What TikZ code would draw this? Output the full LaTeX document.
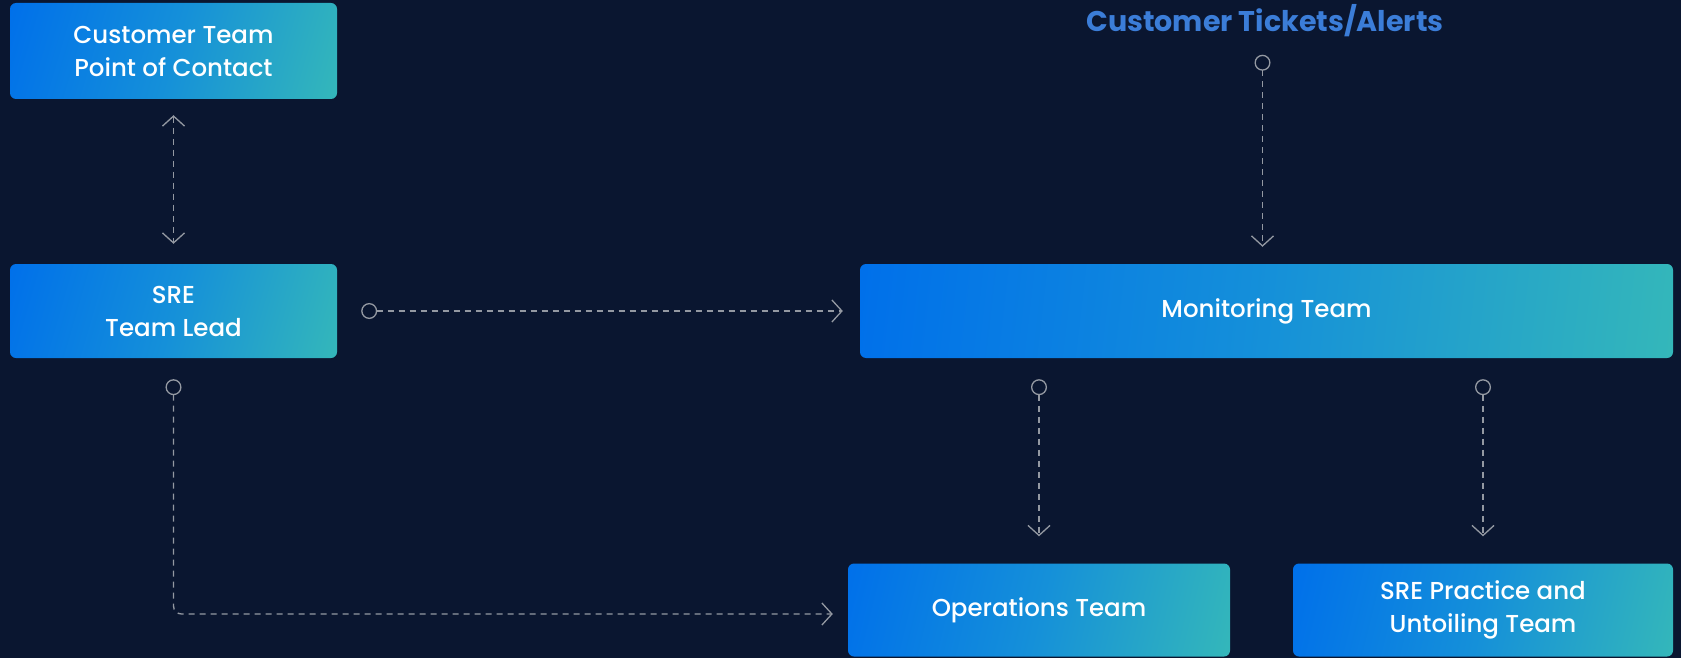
\documentclass[tikz,border=0pt]{standalone}
\usepackage{fontspec}
\setmainfont{Poppins}
\newfontfamily\labelfont{Poppins Medium}
\usetikzlibrary{arrows.meta}
\definecolor{bgnavy}{HTML}{0A1630}
\definecolor{boxblue}{HTML}{0070EA}
\definecolor{boxmid}{HTML}{1590D9}
\definecolor{boxteal}{HTML}{34B7BA}
\definecolor{linkgray}{HTML}{9499A2}
\definecolor{titleblue}{HTML}{3B7DD8}
\makeatletter
\tikzset{
  % corner-to-corner gradient whose colour bands keep a 45 degree slant
  % whatever the width of the box
  diaggrad/.style={path picture={%
    \pgfpointdiff{\pgfpointanchor{path picture bounding box}{south west}}%
                 {\pgfpointanchor{path picture bounding box}{north east}}%
    \pgfgetlastxy{\gradw}{\gradh}%
    \pgfmathsetmacro\gw{\gradw/100}%
    \pgfmathsetmacro\gh{\gradh/100}%
    \pgfmathsetmacro\gradang{90-atan(\gh/\gw)}%
    \pgfmathsetmacro\gradr{(\gw+\gh)/sqrt(\gw*\gw+\gh*\gh)}%
    \pgfmathsetmacro\gradlo{50-25*\gradr}%
    \pgfmathsetmacro\gradhi{50+25*\gradr}%
    \pgfdeclareverticalshading{teamgrad\tikz@fig@name}{100bp}{%
      color(0bp)=(boxteal); color(\gradlo bp)=(boxteal); color(50bp)=(boxmid);
      color(\gradhi bp)=(boxblue); color(100bp)=(boxblue)}%
    \shade[shading=teamgrad\tikz@fig@name, shading angle=\gradang]
      (path picture bounding box.south west) rectangle (path picture bounding box.north east);
  }},
}
\makeatother
\tikzset{
  team/.style={rounded corners=6pt, minimum width=#1, align=center,
    text=white, font=\labelfont\fontsize{24.5}{33}\selectfont, diaggrad},
  link/.style={draw=linkgray, line width=1.3pt, dash pattern=on 6pt off 5pt},
  barb/.tip={Straight Barb[length=10pt, width=22pt, line width=1.3pt]},
  ring/.tip={Circle[open, length=16pt, width=16pt, line width=1.3pt]},
}
\begin{document}
\begin{tikzpicture}[x=1pt, y=-1pt]
  \fill[bgnavy] (0,0) rectangle (1681,658);
  \useasboundingbox (0,0) rectangle (1681,658);

  % team boxes
  \node[team=327pt, minimum height=96pt] (cust) at (173.5,51) {Customer Team\\Point of Contact};
  \node[team=327pt, minimum height=94pt] (lead) at (173.5,311) {SRE\\Team Lead};
  \node[team=813pt, minimum height=94pt] (mon) at (1266.5,311) {Monitoring Team};
  \node[team=382pt, minimum height=93pt] (ops) at (1039,610) {Operations Team};
  \node[team=380pt, minimum height=93pt] (prac) at (1483,610) {SRE Practice and\\Untoiling Team};

  % incoming source label
  \node[text=titleblue, font=\fontsize{28.5}{32}\bfseries\selectfont] (tickets) at (1265,21) {Customer Tickets/Alerts};

  % connectors
  \draw[link, barb-barb, shorten <=16pt, shorten >=20pt] (cust.south) -- (lead.north);
  \path (tickets.south -| mon.north) ++(-4,0) coordinate (tk);
  \draw[link, ring-barb, shorten <=14pt, shorten >=17pt] (tk) -- (tk |- mon.north);
  \draw[link, ring-barb, shorten <=24pt, shorten >=17pt] (lead.east) -- (mon.west);
  \draw[link, ring-barb, shorten <=21pt, shorten >=27pt] (mon.south -| ops.north) -- (ops.north);
  \draw[link, ring-barb, shorten <=21pt, shorten >=27pt] (mon.south -| prac.north) -- (prac.north);
  \draw[link, ring-barb, rounded corners=8pt, shorten <=21pt, shorten >=15pt] (lead.south) |- ([yshift=-4pt]ops.west);
\end{tikzpicture}
\end{document}
